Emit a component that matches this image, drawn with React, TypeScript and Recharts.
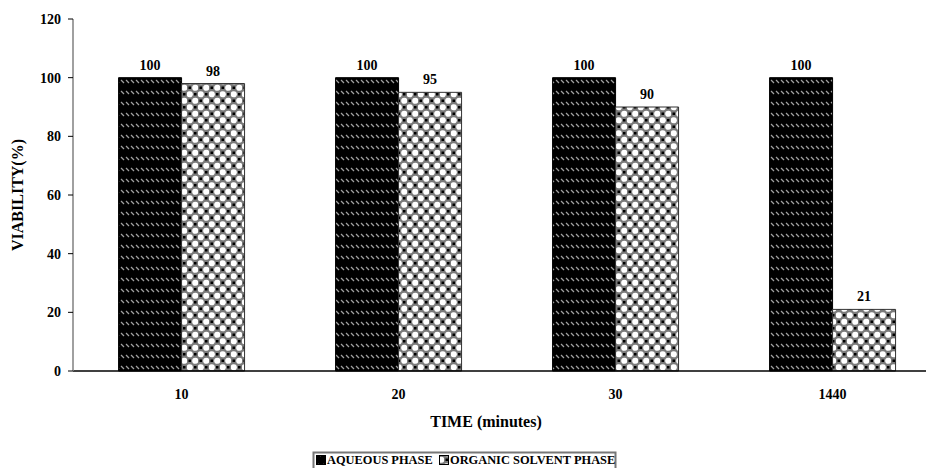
import React from "react";
import {
  BarChart,
  Bar,
  XAxis,
  YAxis,
  LabelList,
} from "recharts";

const times = ["10", "20", "30", "1440"];
const aqueous = [100, 100, 100, 100];
const organic = [98, 95, 90, 21];
const yTicks = [0, 20, 40, 60, 80, 100, 120];
const seriesNames = ["AQUEOUS PHASE", "ORGANIC SOLVENT PHASE"];

const data = times.map((t, i) => ({
  time: t,
  aqueous: aqueous[i],
  organic: organic[i],
}));

const FONT = "Liberation Serif";

const Patterns = () => (
  <svg width={0} height={0} style={{ position: "absolute" }}>
    <defs>
      <pattern id="aqPat" width={5} height={11} patternUnits="userSpaceOnUse">
        <rect width={5} height={11} fill="#000" />
        <line x1={1} y1={3} x2={4} y2={6} stroke="#a0a0a0" strokeWidth={1.3} />
      </pattern>
      <pattern id="orgPat" width={11} height={13} patternUnits="userSpaceOnUse">
        <rect width={11} height={13} fill="#7a7a7a" />
        <circle cx={2.75} cy={3.25} r={3.1} fill="#fff" />
        <circle cx={8.25} cy={9.75} r={3.1} fill="#fff" />
        <rect x={7} y={2} width={2.5} height={2.5} fill="#000" />
        <rect x={1.5} y={8.5} width={2.5} height={2.5} fill="#000" />
      </pattern>
    </defs>
  </svg>
);

const LegendBox = () => (
  <svg
    width={320}
    height={18}
    style={{ position: "absolute", left: 312, top: 450 }}
  >
    <polyline
      points="1.5,18 1.5,2.5 303.5,2.5 303.5,18"
      fill="none"
      stroke="#777"
      strokeWidth={2}
    />
    <rect x={4.5} y={5.5} width={9} height={9} fill="url(#aqPat)" stroke="#000" />
    <text x={15} y={14} fontFamily={FONT} fontWeight="bold" fontSize={12.4} fill="#000">
      {seriesNames[0]}
    </text>
    <rect x={127.5} y={5.5} width={9} height={9} fill="url(#orgPat)" stroke="#000" />
    <text x={138} y={14} fontFamily={FONT} fontWeight="bold" fontSize={12.4} fill="#000">
      {seriesNames[1]}
    </text>
  </svg>
);

export default function App() {
  const tickStyle = { fontFamily: FONT, fontWeight: "bold", fontSize: 14, fill: "#000" };
  return (
    <div
      style={{
        position: "absolute",
        left: 0,
        top: 0,
        width: 926,
        height: 468,
        overflow: "hidden",
        background: "#fff",
        fontFamily: FONT,
      }}
    >
      <Patterns />
      <BarChart
        width={945}
        height={468}
        data={data}
        margin={{ top: 19, right: 4, left: 0, bottom: 72 }}
        barGap={0}
        barCategoryGap="21%"
      >
        <XAxis
          dataKey="time"
          axisLine={{ stroke: "#000", strokeWidth: 1.5 }}
          tickLine={false}
          tick={tickStyle}
          tickMargin={12}
          height={25}
          label={{
            value: "TIME (minutes)",
            position: "insideBottom",
            offset: -31,
            dx: -21,
            style: { fontFamily: FONT, fontWeight: "bold", fontSize: 16, fill: "#000" },
          }}
        />
        <YAxis
          domain={[0, 120]}
          ticks={yTicks}
          width={73}
          axisLine={{ stroke: "#808080", strokeWidth: 1.5 }}
          tickLine={{ stroke: "#000" }}
          tickSize={5}
          tick={tickStyle}
          tickMargin={7}
          label={{
            value: "VIABILITY(%)",
            angle: -90,
            position: "insideLeft",
            offset: 17,
            style: {
              fontFamily: FONT,
              fontWeight: "bold",
              fontSize: 16,
              fill: "#000",
              textAnchor: "middle",
            },
          }}
        />
        <Bar
          dataKey="aqueous"
          fill="url(#aqPat)"
          stroke="#000"
          strokeWidth={1}
          isAnimationActive={false}
        >
          <LabelList
            dataKey="aqueous"
            position="top"
            offset={8}
            style={{ fontFamily: FONT, fontWeight: "bold", fontSize: 14, fill: "#000" }}
          />
        </Bar>
        <Bar
          dataKey="organic"
          fill="url(#orgPat)"
          stroke="#333"
          strokeWidth={1}
          isAnimationActive={false}
        >
          <LabelList
            dataKey="organic"
            position="top"
            offset={8}
            style={{ fontFamily: FONT, fontWeight: "bold", fontSize: 14, fill: "#000" }}
          />
        </Bar>
      </BarChart>
      <LegendBox />
    </div>
  );
}
